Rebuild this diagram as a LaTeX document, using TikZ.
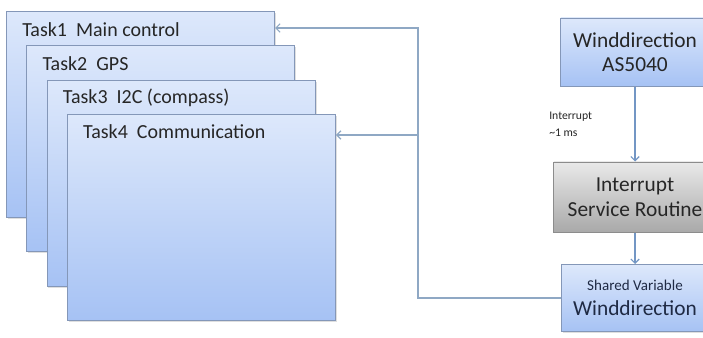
\documentclass[tikz,border=0pt]{standalone}
\usepackage{fontspec}
\setmainfont{Carlito}
\usetikzlibrary{arrows.meta,shadows}
\definecolor{boxedge}{HTML}{8497B8}
\definecolor{boxtop}{HTML}{DDE8FB}
\definecolor{boxbot}{HTML}{A6C2F4}
\definecolor{isrtop}{HTML}{E9E9E9}
\definecolor{isrbot}{HTML}{A9A9A9}
\definecolor{isredge}{HTML}{8C8C8C}
\definecolor{wire}{HTML}{8FA8C4}
\definecolor{flowline}{HTML}{7396C4}
\definecolor{txt}{HTML}{262626}
\definecolor{navy}{HTML}{1F2A44}
\tikzset{
  boxshadow/.style={drop shadow={opacity=0.25,shadow xshift=1pt,shadow yshift=-1pt}},
  taskbox/.style={draw=boxedge, line width=0.7pt, top color=boxtop, bottom color=boxbot,
    minimum width=6.7cm, minimum height=5.15cm, anchor=north west, inner sep=0pt, boxshadow},
  tasktext/.style={anchor=west, text=txt, font=\fontsize{14.2}{17}\selectfont, inner sep=0pt},
  sensorbox/.style={draw=boxedge, line width=0.7pt, top color=boxtop, bottom color=boxbot,
    align=center, text=txt, inner sep=0pt, boxshadow},
  isrbox/.style={draw=isredge, line width=0.7pt, top color=isrtop, bottom color=isrbot,
    align=center, text=txt, inner sep=0pt, boxshadow},
  wire/.style={draw=wire, line width=0.8pt, -{Straight Barb[length=3pt,width=6pt]}},
  flow/.style={draw=flowline, line width=0.8pt, -{Straight Barb[length=3pt,width=6pt]}}
}
\begin{document}
\begin{tikzpicture}[x=0.025cm,y=-0.025cm]
\fill[white] (0,0) rectangle (703,337);
\useasboundingbox (0,0) rectangle (703,337);
% stacked task windows
\foreach \i/\name in {1/Main control, 2/GPS, 3/I2C (compass), 4/Communication}{
  \node[taskbox] (task\i) at ({6+20.3*(\i-1)},{11+34.3*(\i-1)}) {};
  \node[tasktext] (tasklabel\i) at ({22+20.3*(\i-1)},{30+34*(\i-1)}) {Task\i\ \ \name};
}
% sensor side
\node[sensorbox, minimum width=3.7cm, minimum height=1.7cm, font=\fontsize{15.2}{17}\selectfont]
  (wind) at (635,52) {Winddirection\\AS5040};
\node[isrbox, minimum width=4.05cm, minimum height=1.75cm, font=\fontsize{15.2}{17.8}\selectfont]
  (isr) at (635,197) {Interrupt\\Service Routine};
\node[sensorbox, minimum width=3.65cm, minimum height=1.675cm, text=navy, font=\fontsize{15.2}{17}\selectfont]
  (shared) at (635,298) {{\fontsize{10.7}{13}\selectfont Shared Variable}\\[1pt]Winddirection};
\node[anchor=west, align=left, text=txt, inner sep=0pt, font=\fontsize{8.3}{12}\selectfont]
  (irqlabel) at (549,124) {Interrupt\\\textasciitilde1 ms};
\draw[flow] (wind) -- (isr);
\draw[flow] (isr) -- (shared);
% shared variable read by the tasks
\coordinate (busbot) at (418,298);
\coordinate (bustop) at (418,28);
\coordinate (busmid) at (418,135);
\draw[wire] (shared.west) -- (busbot) -- (bustop) -- (task1.east |- bustop);
\draw[wire] (busmid) -- (task4.east |- busmid);
\end{tikzpicture}
\end{document}
